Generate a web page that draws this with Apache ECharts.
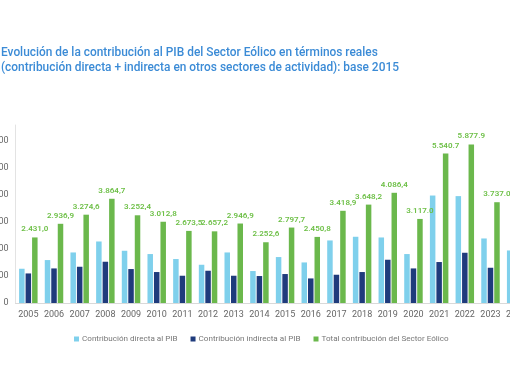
<!DOCTYPE html>
<html><head><meta charset="utf-8">
<script src="https://cdn.jsdelivr.net/npm/echarts@6/dist/echarts.min.js"></script>
<style>html,body{margin:0;padding:0;background:#fff}#c{width:510px;height:382px}</style>
</head><body><div id="c"></div>
<script>
var years = ['2005','2006','2007','2008','2009','2010','2011','2012','2013','2014','2015','2016','2017','2018','2019','2020','2021','2022','2023','2024'];
var directa = [1270,1592,1874,2281,1937,1815,1630,1418,1874,1185,1704,1504,2319,2456,2430,1815,3985,3963,2393,1948];
var indirecta = [1096,1282,1344,1530,1259,1148,1011,1196,1011,1000,1074,911,1048,1148,1604,1282,1519,1863,1307,1100];
var total = [2431.0,2936.9,3274.6,3864.7,3252.4,3012.8,2673.5,2657.2,2946.9,2252.6,2797.7,2450.8,3418.9,3648.2,4086.4,3117.0,5540.7,5877.9,3737.0,3050];
var totalLabels = ['2.431,0','2.936,9','3.274,6','3.864,7','3.252,4','3.012,8','2.673,5','2.657,2','2.946,9','2.252,6','2.797,7','2.450,8','3.418,9','3.648,2','4.086,4','3.117.0','5.540.7','5.877.9','3.737.0',''];
var seriesNames = ['Contribución directa al PIB','Contribución indirecta al PIB','Total contribución del Sector Eólico'];
var titleText = 'Evolución de la contribución al PIB del Sector Eólico en términos reales\n(contribución directa + indirecta en otros sectores de actividad): base 2015';

var chart = echarts.init(document.getElementById('c'));
var FONT = 'Roboto';
chart.setOption({
  animation: false,
  title: {
    text: titleText, left: -4, top: 41,
    textStyle: {fontFamily: FONT, fontSize: 11.9, fontWeight: 500, color: '#3b8bd6', lineHeight: 15}
  },
  legend: {
    top: 330, left: 69, itemWidth: 5, itemHeight: 5, itemGap: 13,
    icon: 'rect',
    textStyle: {fontFamily: FONT, fontSize: 8.1, color: '#777', padding: [0, 0, 0, -2]},
    data: seriesNames
  },
  grid: {left: 15.5, right: -19, top: 125, bottom: 79, containLabel: false, outerBoundsMode: 'none'},
  xAxis: {
    type: 'category', data: years,
    axisLine: {lineStyle: {color: '#d9d9d9'}},
    axisTick: {show: false},
    axisLabel: {fontFamily: FONT, fontSize: 9, color: '#666', margin: 7, interval: 0}
  },
  yAxis: {
    type: 'value', min: 0, max: 6600, interval: 1000,
    axisLine: {show: true, lineStyle: {color: '#e3e3e3'}},
    axisTick: {show: false},
    splitLine: {show: false},
    axisLabel: {
      fontFamily: FONT, fontSize: 9, color: '#666', margin: 7, showMaxLabel: false,
      formatter: function (v) {
        if (v % 1000 !== 0) return '';
        return v === 0 ? '0' : (v / 1000) + '.000';
      }
    }
  },
  series: [
    {name: seriesNames[0], type: 'bar', data: directa, barWidth: 5.5, barGap: '18%', itemStyle: {color: '#7fd0ec'}},
    {name: seriesNames[1], type: 'bar', data: indirecta, barWidth: 5.5, barGap: '18%', itemStyle: {color: '#1f3b7c'}},
    {name: seriesNames[2], type: 'bar', data: total, barWidth: 5.5, barGap: '18%', itemStyle: {color: '#6bb84c'},
     label: {show: true, position: 'top', distance: 4, fontFamily: FONT, fontSize: 8, fontWeight: 600, color: '#6cbf45',
       formatter: function (p) { return totalLabels[p.dataIndex]; }}}
  ]
});
</script></body></html>
